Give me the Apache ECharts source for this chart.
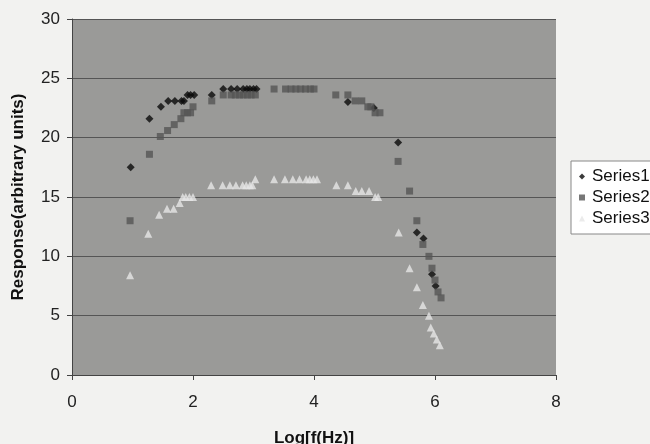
<!DOCTYPE html>
<html><head><meta charset="utf-8">
<script src="https://cdn.jsdelivr.net/npm/echarts@6/dist/echarts.min.js"></script>
<style>html,body{margin:0;padding:0;background:#f2f2f0}#c{width:650px;height:444px}</style>
</head><body><div id="c"></div>
<script>
const series1 = [[0.97,17.5],[1.28,21.6],[1.47,22.6],[1.59,23.1],[1.70,23.1],[1.81,23.1],[1.85,23.1],[1.91,23.6],[1.96,23.6],[2.02,23.6],[2.31,23.6],[2.50,24.1],[2.63,24.1],[2.73,24.1],[2.83,24.1],[2.89,24.1],[2.94,24.1],[3.00,24.1],[3.05,24.1],[4.56,23.0],[4.99,22.5],[5.39,19.6],[5.70,12.0],[5.81,11.5],[5.95,8.5],[6.01,7.5]];
const series2 = [[0.96,13.0],[1.28,18.6],[1.46,20.1],[1.58,20.6],[1.69,21.1],[1.80,21.6],[1.85,22.1],[1.91,22.1],[1.96,22.1],[2.00,22.6],[2.31,23.1],[2.50,23.6],[2.63,23.6],[2.70,23.6],[2.77,23.6],[2.83,23.6],[2.90,23.6],[2.96,23.6],[3.03,23.6],[3.34,24.1],[3.53,24.1],[3.62,24.1],[3.70,24.1],[3.78,24.1],[3.86,24.1],[3.94,24.1],[4.00,24.1],[4.36,23.6],[4.56,23.6],[4.68,23.1],[4.79,23.1],[4.89,22.6],[4.94,22.6],[5.01,22.1],[5.09,22.1],[5.39,18.0],[5.58,15.5],[5.70,13.0],[5.80,11.0],[5.90,10.0],[5.95,9.0],[6.00,8.0],[6.05,7.0],[6.10,6.5]];
const series3 = [[0.96,8.4],[1.26,11.9],[1.44,13.5],[1.57,14.0],[1.68,14.0],[1.78,14.5],[1.83,15.0],[1.88,15.0],[1.94,15.0],[2.00,15.0],[2.30,16.0],[2.49,16.0],[2.61,16.0],[2.71,16.0],[2.82,16.0],[2.88,16.0],[2.94,16.0],[2.98,16.0],[3.03,16.5],[3.34,16.5],[3.52,16.5],[3.65,16.5],[3.76,16.5],[3.87,16.5],[3.93,16.5],[3.99,16.5],[4.05,16.5],[4.37,16.0],[4.56,16.0],[4.69,15.5],[4.79,15.5],[4.91,15.5],[5.01,15.0],[5.06,15.0],[5.40,12.0],[5.58,9.0],[5.70,7.4],[5.80,5.9],[5.90,5.0],[5.93,4.0],[5.98,3.5],[6.03,3.0],[6.08,2.5]];
const seriesNames = ['Series1','Series2','Series3'];

const chart = echarts.init(document.getElementById('c'));
const font = 'Liberation Sans, Arial, sans-serif';
chart.setOption({
  backgroundColor: '#f2f2f0',
  animation: false,
  textStyle: {fontFamily: font},
  grid: {left: 72, top: 19, right: 94, bottom: 69, show: true, backgroundColor: '#9a9a98', borderWidth: 0, containLabel: false, outerBoundsMode: 'none'},
  xAxis: {
    type: 'value', min: 0, max: 8, interval: 2,
    name: 'Log[f(Hz)]', nameLocation: 'middle', nameGap: 55,
    nameTextStyle: {fontSize: 17, fontWeight: 'bold', color: '#111', fontFamily: font},
    axisLine: {show: true, lineStyle: {color: '#444', width: 1}},
    axisTick: {show: true, length: 5, lineStyle: {color: '#444'}},
    axisLabel: {fontSize: 17, color: '#222', margin: 19, fontFamily: font},
    splitLine: {show: false}
  },
  yAxis: {
    type: 'value', min: 0, max: 30, interval: 5,
    name: 'Response(arbitrary units)', nameLocation: 'middle', nameGap: 45,
    nameTextStyle: {fontSize: 17, fontWeight: 'bold', color: '#111', fontFamily: font},
    axisLine: {show: true, lineStyle: {color: '#444', width: 1}},
    axisTick: {show: true, length: 5, lineStyle: {color: '#444'}},
    axisLabel: {fontSize: 17, color: '#222', margin: 12, fontFamily: font},
    splitLine: {show: true, lineStyle: {color: '#555', width: 1}}
  },
  legend: {
    orient: 'vertical', left: 571, top: 161,
    padding: [7, 6, 7, 8], itemGap: 4,
    backgroundColor: '#ffffff', borderColor: '#888', borderWidth: 1,
    itemWidth: 6, itemHeight: 6,
    textStyle: {fontSize: 17, color: '#111', fontFamily: font, padding: [0,0,0,2]},
    data: [
      {name: seriesNames[0], icon: 'diamond'},
      {name: seriesNames[1], icon: 'rect'},
      {name: seriesNames[2], icon: 'triangle'}
    ]
  },
  series: [
    {name: seriesNames[0], type: 'scatter', data: series1, symbol: 'diamond', symbolSize: 8, itemStyle: {color: '#0a0a0a'}},
    {name: seriesNames[1], type: 'scatter', data: series2, symbol: 'rect', symbolSize: 7, itemStyle: {color: '#555555'}},
    {name: seriesNames[2], type: 'scatter', data: series3, symbol: 'triangle', symbolSize: 8, itemStyle: {color: '#e6e6e6'}}
  ]
});
</script></body></html>
